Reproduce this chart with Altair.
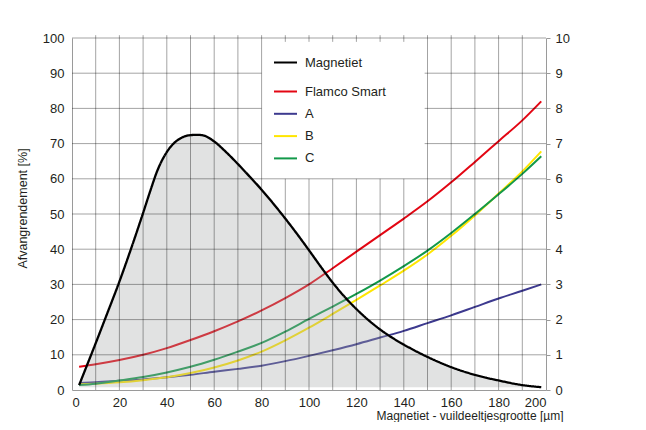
import altair as alt
import pandas as pd

# ---------------- data ----------------
# Magnetiet particle size distribution (left axis, %)
MAG_X = [3, 10, 15, 20, 25, 30, 33, 36, 40, 43, 46, 50, 53, 56, 60, 65, 70, 75, 80,
         85, 90, 95, 100, 105, 110, 115, 120, 125, 130, 135, 140, 150, 160, 170, 180, 190, 198]
MAG_Y = [1.4, 13.3, 22.0, 30.8, 40.3, 50.3, 56.5, 62.3, 67.6, 70.1, 71.6, 72.4, 72.5, 72.2, 70.6,
         67.6, 64.2, 60.6, 56.9, 52.9, 48.7, 44.3, 39.7, 35.0, 30.5, 26.5, 23.0, 19.9, 17.2,
         14.9, 12.9, 9.4, 6.5, 4.3, 2.7, 1.4, 0.8]

# separation curves (right axis, 0-10)
SIZE_X = [3, 10, 20, 30, 40, 50, 60, 70, 80, 90, 100, 110, 120, 130, 140, 150, 160, 170, 180, 190, 198]
FLAMCO = [0.66, 0.73, 0.85, 1.00, 1.19, 1.42, 1.67, 1.95, 2.26, 2.61, 3.00,
          3.46, 3.93, 4.40, 4.87, 5.36, 5.90, 6.48, 7.07, 7.66, 8.20]
SER_A = [0.20, 0.22, 0.26, 0.30, 0.36, 0.43, 0.52, 0.60, 0.69, 0.82, 0.97,
         1.13, 1.30, 1.49, 1.68, 1.90, 2.12, 2.36, 2.60, 2.82, 3.00]
SER_B = [0.16, 0.18, 0.22, 0.28, 0.36, 0.48, 0.64, 0.84, 1.09, 1.41, 1.77,
         2.16, 2.56, 2.97, 3.39, 3.85, 4.38, 4.96, 5.58, 6.21, 6.78]
SER_C = [0.14, 0.18, 0.27, 0.37, 0.50, 0.66, 0.86, 1.09, 1.34, 1.66, 2.02,
         2.37, 2.73, 3.11, 3.52, 3.96, 4.46, 5.00, 5.56, 6.14, 6.64]

SERIES = ["Flamco Smart", "A", "B", "C"]
COLORS = ["#e30613", "#3d3a8f", "#ffe600", "#13994a"]
MAG_NAME = "Magnetiet"

X_TICKS = list(range(0, 201, 20))
Y_TICKS = list(range(0, 101, 10))
Y2_TICKS = list(range(0, 11))
GRID_X = list(range(10, 200, 10))
GRID_Y = list(range(10, 101, 10))
LEGEND_BOX = (80, 148.8, 60, 100)  # x0, x1, y0, y1 (white area behind legend)

# ---------------- tables ----------------
mag_df = pd.DataFrame({"x": MAG_X, "pct": MAG_Y, "curve": MAG_NAME})

rows = []
for name, vals in zip(SERIES, [FLAMCO, SER_A, SER_B, SER_C]):
    for xv, yv in zip(SIZE_X, vals):
        rows.append({"x": xv, "v": yv, "serie": name})
ser_df = pd.DataFrame(rows)

bx0, bx1, by0, by1 = LEGEND_BOX
grid = []
for yv in GRID_Y:
    if by0 < yv < by1:
        grid.append({"x": 0, "x2": bx0, "y": yv, "y2": yv})
        grid.append({"x": bx1, "x2": 200, "y": yv, "y2": yv})
    else:
        grid.append({"x": 0, "x2": 200, "y": yv, "y2": yv})
for xv in GRID_X:
    if bx0 < xv < bx1:
        grid.append({"x": xv, "x2": xv, "y": 0, "y2": by0})
        grid.append({"x": xv, "x2": xv, "y": 98.9, "y2": 100.8})
    else:
        grid.append({"x": xv, "x2": xv, "y": 0, "y2": 100.8})
grid_df = pd.DataFrame(grid)

# ---------------- encodings ----------------
FONT = "Liberation Sans"
TXT = "#231f20"
AXC = "#9a9a9a"

xscale = alt.Scale(domain=[0, 200], nice=False)
xaxis = alt.Axis(values=X_TICKS, grid=False, ticks=False, tickSize=0, domainColor=AXC,
                 labelFontSize=13, labelColor=TXT, labelPadding=6,
                 title="Magnetiet - vuildeeltjesgrootte [µm]", titleFontSize=12,
                 titleFontWeight="normal", titleColor=TXT, titleX=491, titleY=25,
                 titleAlign="right", titleBaseline="middle", titleAngle=0)
yl_scale = alt.Scale(domain=[0, 100], nice=False)
yr_scale = alt.Scale(domain=[0, 10], nice=False)

colored = alt.Chart(ser_df).mark_line(strokeWidth=2, interpolate="monotone").encode(
    x=alt.X("x:Q", scale=xscale, axis=xaxis),
    y=alt.Y("v:Q", scale=yr_scale,
            axis=alt.Axis(orient="right", values=Y2_TICKS, grid=False, tickSize=4,
                          tickColor=AXC, domainColor=AXC, labelFontSize=13,
                          labelColor=TXT, labelPadding=5, title=None)),
    color=alt.Color("serie:N", scale=alt.Scale(domain=SERIES, range=COLORS),
                    legend=alt.Legend(orient="none", legendX=201, legendY=41, title=None,
                                      symbolType="stroke", symbolSize=529,
                                      symbolStrokeWidth=2, labelFontSize=13,
                                      labelColor=TXT, labelOffset=7, rowPadding=2.3,
                                      padding=0)),
    detail="serie:N",
)

area = alt.Chart(mag_df).mark_area(color="#a5a8a8", opacity=0.33, interpolate="monotone").encode(
    x=alt.X("x:Q", scale=xscale, axis=xaxis),
    y=alt.Y("pct:Q", scale=yl_scale, axis=None),
    y2=alt.datum(0.8),
)

gridlines = alt.Chart(grid_df).mark_rule(color="black", opacity=0.36, strokeWidth=1).encode(
    x=alt.X("x:Q", scale=xscale, axis=xaxis),
    x2="x2:Q",
    y=alt.Y("y:Q", scale=yl_scale, axis=None),
    y2="y2:Q",
)

black = alt.Chart(mag_df).mark_line(color="black", strokeWidth=2.3, interpolate="monotone").encode(
    x=alt.X("x:Q", scale=xscale, axis=xaxis),
    y=alt.Y("pct:Q", scale=yl_scale,
            axis=alt.Axis(orient="left", values=Y_TICKS, grid=False, ticks=False, tickSize=0,
                          domainColor=AXC, labelFontSize=13, labelColor=TXT, labelPadding=8,
                          title="Afvangrendement [%]", titleFontSize=12.5,
                          titleFontWeight="normal", titleColor=TXT, titleX=-50, titleY=170,
                          titleAlign="center", titleBaseline="middle")),
    strokeDash=alt.StrokeDash("curve:N", scale=alt.Scale(domain=[MAG_NAME], range=[[1, 0]]),
                              legend=alt.Legend(orient="none", legendX=201, legendY=12,
                                                title=None, symbolType="stroke",
                                                symbolSize=529, symbolStrokeWidth=2,
                                                symbolStrokeColor="black", labelFontSize=13,
                                                labelColor=TXT, labelOffset=7, padding=0)),
)

chart = alt.layer(colored, area, gridlines, black).resolve_scale(
    y="independent", color="independent", strokeDash="independent"
).properties(
    width=474, height=352,
    autosize=alt.AutoSizeParams(type="none"),
    padding={"left": 64, "top": 30, "right": 60, "bottom": 32},
).configure(font=FONT).configure_view(stroke=None)

chart.save("out.html", embed_options={"renderer": "svg", "actions": False})
